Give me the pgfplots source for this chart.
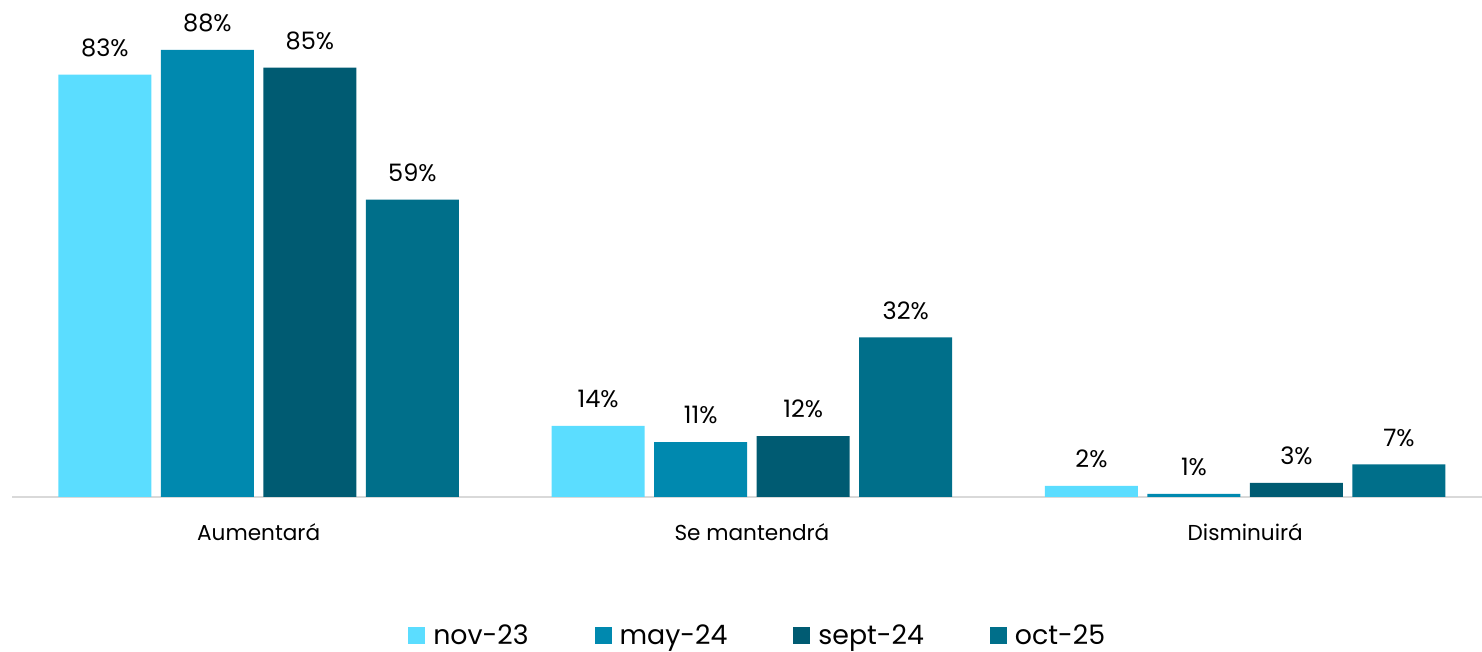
\documentclass[border=0pt]{standalone}
\usepackage{fontspec}
\setmainfont{Poppins}
\usepackage{pgfplots}
\pgfplotsset{compat=1.18}
\definecolor{cA}{HTML}{5BDDFF}
\definecolor{cB}{HTML}{0089AF}
\definecolor{cC}{HTML}{005B72}
\definecolor{cD}{HTML}{006F8A}
\definecolor{baseline}{HTML}{D9D9D9}
\begin{document}
\begin{tikzpicture}
\useasboundingbox (-6pt,-77.5pt) rectangle (735pt,248.5pt);
\begin{axis}[
  at={(0pt,0pt)}, anchor=south west,
  scale only axis, width=735pt, height=248.5pt,
  xmin=-0.5, xmax=2.48, ymin=0, ymax=97.8,
  ybar, bar width=46.5pt,
  axis x line*=bottom, axis y line=none,
  x axis line style={-, draw=baseline, line width=1pt},
  xtick={0,1,2}, xticklabels={Aumentará,Se mantendrá,Disminuirá},
  major tick length=0pt,
  xticklabel style={font=\fontsize{10.8}{12}\selectfont, yshift=-10pt},
  /pgf/number format/assume math mode=true,
  point meta=explicit,
  nodes near coords={\pgfmathprintnumber[fixed,precision=0]{\pgfplotspointmeta}\%},
  every node near coord/.append style={font=\fontsize{12}{14}\selectfont, text=black, yshift=5.5pt},
  legend columns=4,
  legend style={draw=none, fill=none, at={(0.508,-0.279)}, anchor=center, font=\fontsize{13.4}{15}\selectfont,
    /tikz/every odd column/.append style={column sep=2pt},
    /tikz/every even column/.append style={column sep=31pt}},
  legend image code/.code={\fill[#1] (0pt,-4pt) rectangle (8.5pt,4.5pt);},
  clip=false,
]
\addplot[fill=cA, draw=none, bar shift=-76.875pt] coordinates {(0,83.1) [83] (1,14.0) [14] (2,2.2) [2]};
\addplot[fill=cB, draw=none, bar shift=-25.625pt] coordinates {(0,88.0) [88] (1,10.8) [11] (2,0.6) [1]};
\addplot[fill=cC, draw=none, bar shift=25.625pt] coordinates {(0,84.5) [85] (1,12.0) [12] (2,2.8) [3]};
\addplot[fill=cD, draw=none, bar shift=76.875pt] coordinates {(0,58.5) [59] (1,31.4) [32] (2,6.4) [7]};
\legend{nov-23,may-24,sept-24,oct-25}
\end{axis}
\end{tikzpicture}
\end{document}
